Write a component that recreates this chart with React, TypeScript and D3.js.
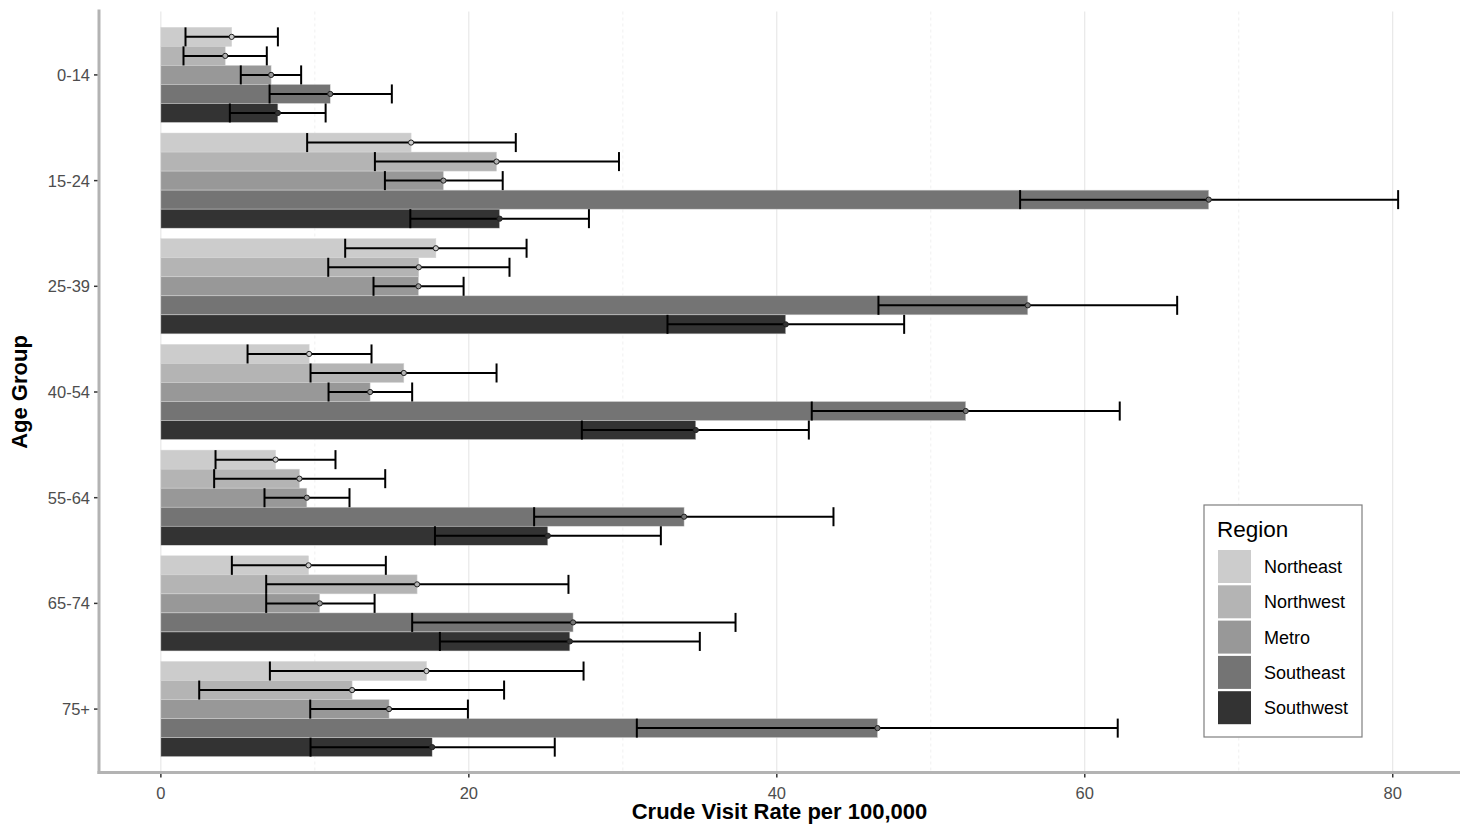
import React from "react";
import * as d3 from "d3";

const ageGroups = ["0-14", "15-24", "25-39", "40-54", "55-64", "65-74", "75+"];
const regions = ["Northeast", "Northwest", "Metro", "Southeast", "Southwest"];
const regionColors = ["#CCCCCC", "#B4B4B4", "#989898", "#747474", "#333333"];

// rate, lower, upper per age group, regions in order
const northeast = [
  [4.6, 1.6, 7.6], [16.25, 9.5, 23.05], [17.86, 11.97, 23.75], [9.63, 5.63, 13.68],
  [7.45, 3.55, 11.34], [9.59, 4.61, 14.61], [17.25, 7.08, 27.45],
];
const northwest = [
  [4.18, 1.47, 6.88], [21.8, 13.9, 29.75], [16.75, 10.87, 22.64], [15.78, 9.72, 21.8],
  [9.0, 3.46, 14.57], [16.64, 6.84, 26.47], [12.42, 2.49, 22.29],
];
const metro = [
  [7.16, 5.19, 9.11], [18.35, 14.55, 22.2], [16.73, 13.81, 19.66], [13.59, 10.89, 16.32],
  [9.48, 6.73, 12.25], [10.32, 6.84, 13.88], [14.82, 9.7, 19.94],
];
const southeast = [
  [11.0, 7.06, 15.0], [68.05, 55.8, 80.35], [56.3, 46.6, 66.0], [52.27, 42.27, 62.27],
  [33.98, 24.24, 43.68], [26.77, 16.32, 37.32], [46.54, 30.91, 62.14],
];
const southwest = [
  [7.6, 4.48, 10.7], [22.0, 16.2, 27.8], [40.58, 32.9, 48.27], [34.74, 27.34, 42.08],
  [25.13, 17.8, 32.47], [26.56, 18.12, 35.0], [17.62, 9.72, 25.58],
];
const seriesData = [northeast, northwest, metro, southeast, southwest];
const xTicks = [0, 20, 40, 60, 80];
const xMinor = [10, 30, 50, 70];

const W = 1467;
const H = 826;
const panel = { left: 99, right: 1460, top: 11.5, bottom: 772.5 };
const font = "'Liberation Sans', Arial, sans-serif";

export default function App() {
  const maxHi = d3.max(seriesData.flat(), (d) => d[2]) as number;
  const span = maxHi;
  const x = d3
    .scaleLinear()
    .domain([-0.05 * span, maxHi + 0.05 * span])
    .range([panel.left, panel.right]);
  const y = d3
    .scaleBand<string>()
    .domain(ageGroups)
    .range([panel.top, panel.bottom])
    .paddingInner(0)
    .paddingOuter(0.1);
  const step = y.step();

  const bars: any[] = [];
  ageGroups.forEach((age, ai) => {
    const c = (y(age) as number) + step / 2;
    const inner = d3
      .scaleBand<string>()
      .domain(regions)
      .range([c - 0.45 * step, c + 0.45 * step]);
    regions.forEach((reg, ri) => {
      const [v, lo, hi] = seriesData[ri][ai];
      bars.push({
        key: age + reg,
        y0: inner(reg) as number,
        h: inner.bandwidth(),
        v,
        lo,
        hi,
        color: regionColors[ri],
      });
    });
  });

  const legendX = 1204;
  const legendY = 505;

  return (
    <svg width={W} height={H} style={{ position: "absolute", left: 0, top: 0 }}>
      <rect x={0} y={0} width={W} height={H} fill="white" />
      {/* grid */}
      {xMinor.map((t) => (
        <line
          key={"mn" + t}
          x1={x(t)}
          x2={x(t)}
          y1={panel.top}
          y2={panel.bottom}
          stroke="#e6e6e6"
          strokeWidth={0.6}
          strokeDasharray="3,3"
        />
      ))}
      {xTicks.map((t) => (
        <line
          key={"mj" + t}
          x1={x(t)}
          x2={x(t)}
          y1={panel.top}
          y2={panel.bottom}
          stroke="#e3e3e3"
          strokeWidth={1}
        />
      ))}
      {/* bars */}
      {bars.map((b) => (
        <rect
          key={"r" + b.key}
          x={x(0)}
          y={b.y0}
          width={x(b.v) - x(0)}
          height={b.h}
          fill={b.color}
          stroke="#d6d6d6"
          strokeWidth={0.5}
        />
      ))}
      {/* error bars */}
      {bars.map((b) => {
        const cy = b.y0 + b.h / 2;
        return (
          <g key={"e" + b.key} stroke="black" strokeWidth={2}>
            <line x1={x(b.lo)} x2={x(b.hi)} y1={cy} y2={cy} />
            <line x1={x(b.lo)} x2={x(b.lo)} y1={b.y0} y2={b.y0 + b.h} />
            <line x1={x(b.hi)} x2={x(b.hi)} y1={b.y0} y2={b.y0 + b.h} />
          </g>
        );
      })}
      {bars.map((b) => (
        <circle
          key={"c" + b.key}
          cx={x(b.v)}
          cy={b.y0 + b.h / 2}
          r={2.6}
          fill={b.color}
          stroke="#222"
          strokeWidth={1}
        />
      ))}
      {/* axes */}
      <line x1={panel.left} x2={panel.left} y1={panel.top - 2} y2={panel.bottom + 1.5} stroke="#b3b3b3" strokeWidth={3} />
      <line x1={panel.left - 1.5} x2={panel.right} y1={panel.bottom} y2={panel.bottom} stroke="#b3b3b3" strokeWidth={3} />
      {xTicks.map((t) => (
        <g key={"xt" + t}>
          <line x1={x(t)} x2={x(t)} y1={panel.bottom + 1.5} y2={panel.bottom + 5} stroke="#333" strokeWidth={1.5} />
          <text
            x={x(t)}
            y={panel.bottom + 26}
            textAnchor="middle"
            fontFamily={font}
            fontSize={16.5}
            fill="#4d4d4d"
          >
            {t}
          </text>
        </g>
      ))}
      {ageGroups.map((a) => {
        const cy = (y(a) as number) + step / 2;
        return (
          <g key={"yt" + a}>
            <line x1={panel.left - 5} x2={panel.left - 1.5} y1={cy} y2={cy} stroke="#333" strokeWidth={1.5} />
            <text
              x={panel.left - 9}
              y={cy + 6}
              textAnchor="end"
              fontFamily={font}
              fontSize={16.5}
              fill="#4d4d4d"
            >
              {a}
            </text>
          </g>
        );
      })}
      <text
        x={(panel.left + panel.right) / 2}
        y={819}
        textAnchor="middle"
        fontFamily={font}
        fontSize={22}
        fontWeight="bold"
        fill="black"
      >
        Crude Visit Rate per 100,000
      </text>
      <text
        transform={`translate(27, ${(panel.top + panel.bottom) / 2}) rotate(-90)`}
        textAnchor="middle"
        fontFamily={font}
        fontSize={22}
        fontWeight="bold"
        fill="black"
      >
        Age Group
      </text>
      {/* legend */}
      <rect x={legendX} y={legendY} width={158} height={232} fill="white" stroke="#7f7f7f" strokeWidth={1.2} />
      <text x={legendX + 13} y={legendY + 32} fontFamily={font} fontSize={22.5} fill="black">
        Region
      </text>
      {regions.map((r, i) => (
        <g key={"lg" + r}>
          <rect x={legendX + 14} y={legendY + 45 + i * 35.3} width={33} height={33} fill={regionColors[i]} />
          <text
            x={legendX + 60}
            y={legendY + 68 + i * 35.3}
            fontFamily={font}
            fontSize={18}
            fill="black"
          >
            {r}
          </text>
        </g>
      ))}
    </svg>
  );
}
